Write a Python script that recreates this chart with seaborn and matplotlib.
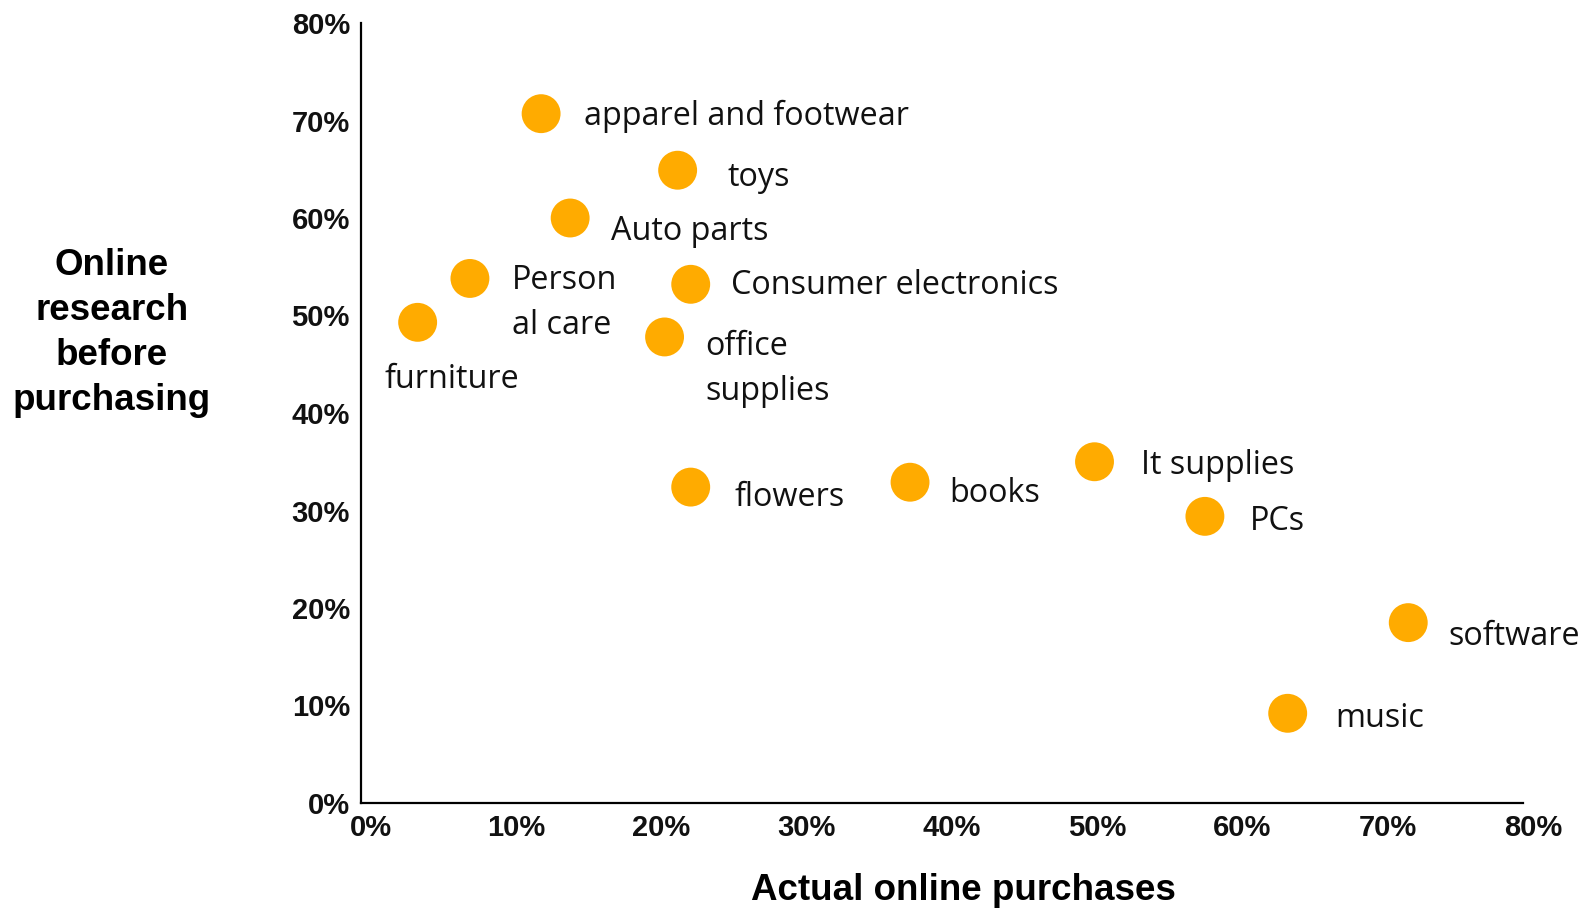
import matplotlib
matplotlib.use("Agg")
import matplotlib.pyplot as plt
from matplotlib.transforms import ScaledTranslation
from matplotlib.ticker import PercentFormatter
import seaborn as sns
import pandas as pd

categories = ["apparel and footwear", "toys", "Auto parts", "Person\nal care", "furniture",
              "Consumer electronics", "office\nsupplies", "flowers", "books", "It supplies",
              "PCs", "software", "music"]
actual_purchases = [12.4, 21.8, 14.4, 7.5, 3.9, 22.7, 20.9, 22.7, 37.8, 50.5, 58.1, 72.1, 63.8]
online_research = [70.7, 64.9, 60.0, 53.8, 49.3, 53.2, 47.8, 32.4, 32.9, 35.0, 29.4, 18.5, 9.2]
tick_values = [0, 10, 20, 30, 40, 50, 60, 70, 80]

# label offsets in pixels (layout only)
label_offsets = [(43, -3), (50, -7), (41, -13), (42, -25), (-33, -57), (40, -1), (41, -32),
                 (44, -10), (39, -11), (46, -4), (45, -5), (40, -14), (48, -5)]

df = pd.DataFrame({"category": categories, "actual": actual_purchases, "research": online_research})

sns.set_style("white")
plt.rcParams["font.family"] = ["Liberation Sans", "DejaVu Sans"]

fig = plt.figure(figsize=(15.87, 9.08), dpi=100)
ax = fig.add_axes([361 / 1587, 1 - 803 / 908, (1523 - 361) / 1587, (803 - 23) / 908])

sns.scatterplot(data=df, x="actual", y="research", ax=ax, s=784, color="#FFAB00",
                edgecolor="none", linewidth=0, zorder=3, clip_on=False)

for cat, x, y, (dx, dy) in zip(categories, actual_purchases, online_research, label_offsets):
    ax.annotate(cat, (x, y), xytext=(dx, dy), textcoords="offset pixels",
                ha="left", va="center", fontsize=23.3, family="Open Sans", color="#111111",
                linespacing=1.48)

ax.set_xlim(0, 80)
ax.set_ylim(0, 80)
ax.set_xticks(tick_values)
ax.set_yticks(tick_values)
ax.xaxis.set_major_formatter(PercentFormatter(decimals=0))
ax.yaxis.set_major_formatter(PercentFormatter(decimals=0))
ax.tick_params(axis="both", length=0, labelsize=21, labelcolor="#111111")
ax.tick_params(axis="x", pad=8)
ax.tick_params(axis="y", pad=8)
for lab in ax.get_xticklabels():
    lab.set_fontweight("bold")
    lab.set_transform(lab.get_transform() + ScaledTranslation(10 / 100, 0, fig.dpi_scale_trans))
for lab in ax.get_yticklabels():
    lab.set_fontweight("bold")

for side in ["top", "right"]:
    ax.spines[side].set_visible(False)
for side in ["left", "bottom"]:
    ax.spines[side].set_color("black")
    ax.spines[side].set_linewidth(1.6)

ax.set_xlabel("Actual online purchases", fontsize=26.5, fontweight="bold", color="black",
              va="center")
ax.xaxis.set_label_coords(0.5185, -0.1125)
ax.set_ylabel("Online\nresearch\nbefore\npurchasing", fontsize=26.5, fontweight="bold",
              color="black", rotation=0, ha="center", va="center", linespacing=1.36)
ax.yaxis.set_label_coords(-0.2143, 0.6026)

fig.savefig("out.png", dpi=100)
